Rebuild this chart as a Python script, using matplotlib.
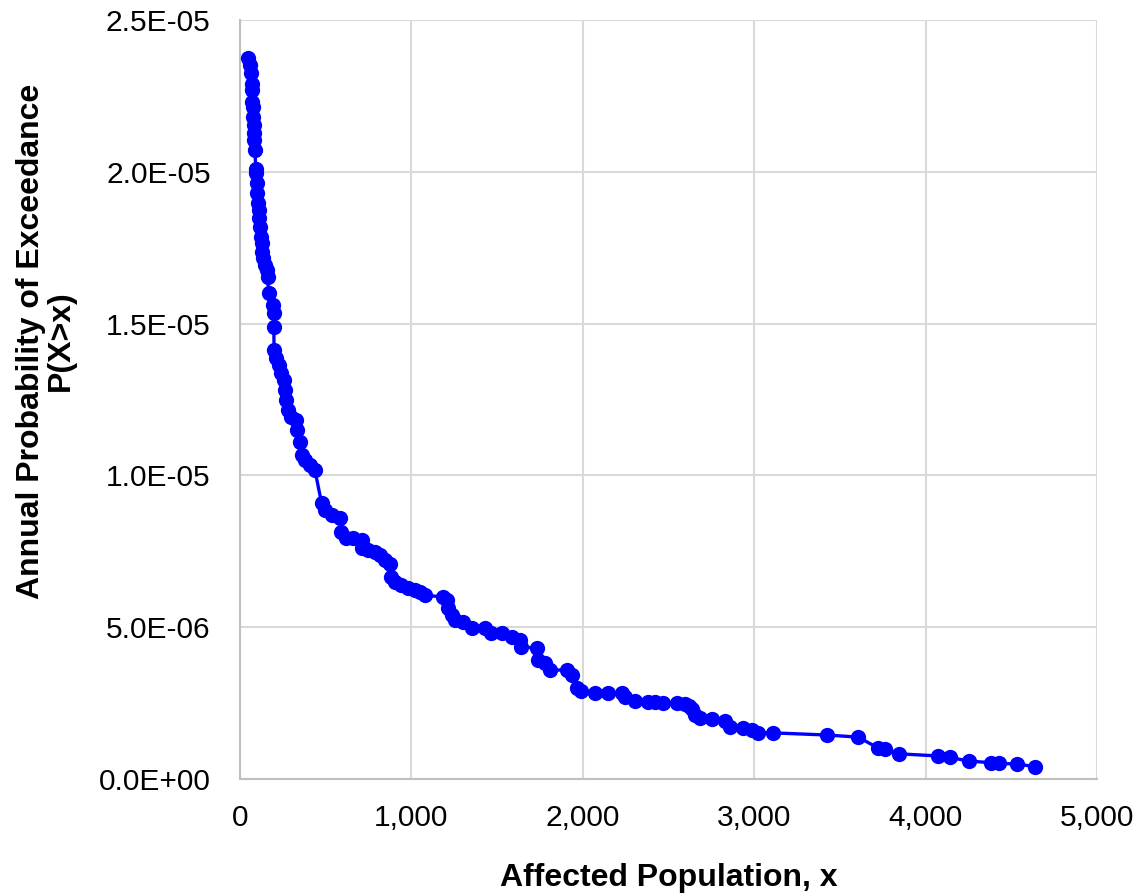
import numpy as np
import matplotlib
matplotlib.use("Agg")
from matplotlib import pyplot as plt
from matplotlib.ticker import FuncFormatter, MultipleLocator

# affected population x and annual probability of exceedance (in units of 1E-06)
pop_x = [48, 62, 68, 72, 72, 72, 74, 78, 82, 82, 82, 88, 93, 97, 101, 103,
         107, 111, 113, 117, 121, 127, 130, 136, 146, 156, 162, 168, 191, 198,
         198, 200, 210, 229, 243, 257, 263, 272, 282, 301, 327, 331, 350, 360,
         379, 408, 438, 477, 496, 535, 583, 593, 622, 661, 710, 710, 749, 788,
         817, 846, 875, 880, 904, 943, 982, 1021, 1050, 1079, 1186, 1206, 1215,
         1235, 1254, 1303, 1352, 1429, 1468, 1527, 1585, 1634, 1643, 1731, 1741,
         1779, 1809, 1906, 1935, 1964, 1993, 2071, 2149, 2227, 2246, 2304, 2382,
         2421, 2470, 2548, 2596, 2620, 2635, 2655, 2684, 2752, 2829, 2859, 2936,
         2985, 3024, 3111, 3423, 3607, 3724, 3763, 3845, 4074, 4142, 4255, 4380,
         4430, 4535, 4638]
prob_e6 = [23.74, 23.52, 23.25, 22.90, 22.70, 22.30, 22.15, 21.80, 21.54, 21.27,
           21.05, 20.72, 20.10, 19.95, 19.62, 19.29, 18.96, 18.74, 18.47, 18.19,
           17.86, 17.65, 17.37, 17.15, 16.93, 16.77, 16.55, 16.00, 15.61, 15.34,
           14.90, 14.13, 13.86, 13.64, 13.36, 13.14, 12.81, 12.48, 12.15, 11.93,
           11.83, 11.50, 11.11, 10.67, 10.51, 10.34, 10.18, 9.08, 8.86, 8.70,
           8.59, 8.15, 7.93, 7.93, 7.87, 7.60, 7.54, 7.49, 7.38, 7.21, 7.08,
           6.66, 6.50, 6.39, 6.28, 6.23, 6.17, 6.05, 6.00, 5.90, 5.62, 5.40,
           5.24, 5.18, 4.98, 4.96, 4.80, 4.80, 4.69, 4.58, 4.36, 4.31, 3.92,
           3.81, 3.59, 3.59, 3.43, 2.99, 2.90, 2.85, 2.83, 2.82, 2.71, 2.58,
           2.55, 2.53, 2.51, 2.50, 2.47, 2.40, 2.30, 2.11, 2.02, 1.97, 1.92,
           1.72, 1.67, 1.60, 1.53, 1.52, 1.45, 1.38, 1.02, 0.99, 0.83, 0.76,
           0.71, 0.59, 0.54, 0.52, 0.49, 0.41]

prob_y = np.array(prob_e6) * 1e-6

plt.rcParams['font.family'] = ['Liberation Sans', 'DejaVu Sans']

fig = plt.figure(figsize=(11.42, 8.94), dpi=100)
ax = fig.add_axes([0.210, 0.1286, 0.7506, 0.849])

ax.plot(pop_x, prob_y, color="#0000FF", linewidth=2.4, marker="o",
        markersize=11, markeredgewidth=0, zorder=3)

ax.set_xlim(0, 5000)
ax.set_ylim(0, 2.5e-5)
ax.xaxis.set_major_locator(MultipleLocator(1000))
ax.yaxis.set_major_locator(MultipleLocator(5e-6))
ax.xaxis.set_major_formatter(FuncFormatter(lambda v, p: f"{v:,.0f}"))
ax.yaxis.set_major_formatter(FuncFormatter(lambda v, p: f"{v:.1E}"))

ax.grid(True, color="#d9d9d9", linewidth=1.5, zorder=0)
ax.set_axisbelow(True)
for side in ["top", "right"]:
    ax.spines[side].set_visible(False)
for side in ["left", "bottom"]:
    ax.spines[side].set_color("#bfbfbf")
    ax.spines[side].set_linewidth(1.5)

ax.tick_params(axis="both", length=0, labelsize=21.5, colors="black")
ax.tick_params(axis="y", pad=21)
ax.tick_params(axis="x", pad=18)

ax.set_xlabel("Affected Population, x", fontsize=23, fontweight="bold")
ax.set_ylabel("Annual Probability of Exceedance\nP(X>x)", fontsize=23,
              fontweight="bold", linespacing=1.0)
ax.xaxis.set_label_coords(0.5, -0.111)
ax.yaxis.set_label_coords(-0.191, 0.577)

fig.savefig("out.png", dpi=100)
